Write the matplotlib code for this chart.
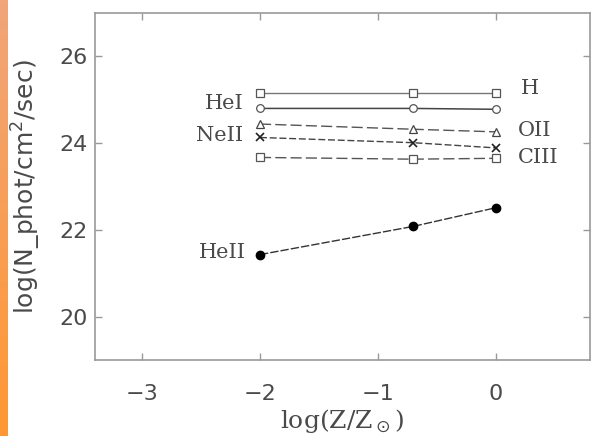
import numpy as np
import matplotlib
matplotlib.use("Agg")
import matplotlib.pyplot as plt

# Data
log_z = [-2.0, -0.7, 0.0]
H = [25.15, 25.15, 25.15]
HeI = [24.80, 24.80, 24.78]
OII = [24.44, 24.32, 24.26]
NeII = [24.13, 24.01, 23.89]
CIII = [23.67, 23.63, 23.65]
HeII = [21.43, 22.08, 22.51]

xticks = [-3, -2, -1, 0]
yticks = [20, 22, 24, 26]

fig = plt.figure(figsize=(5.91, 4.36), dpi=100)

# orange strip on the left
sax = fig.add_axes([0, 0, 8 / 591, 1])
top = np.array([240, 165, 122]) / 255
bot = np.array([255, 152, 50]) / 255
t = np.linspace(0, 1, 100)[:, None]
grad = (top[None, :] * (1 - t) + bot[None, :] * t)[:, None, :]
sax.imshow(grad, aspect="auto", extent=[0, 1, 0, 1])
sax.set_axis_off()

ax = fig.add_axes([95 / 591, 1 - 360 / 436, 495 / 591, 347 / 436])
ax.set_xlim(-3.4, 0.8)
ax.set_ylim(19, 27)

tc = "#4a4a4a"
ms = 5.5
ax.plot(log_z, H, color="#777777", lw=1.0, marker="s", ms=ms, mfc="white", mec="#555555", mew=0.9)
ax.plot(log_z, HeI, color="#444444", lw=1.1, marker="o", ms=ms, mfc="white", mec="#555555", mew=0.9)
ax.plot(log_z, OII, color="#555555", lw=1.0, ls=(0, (8, 3)), marker="^", ms=ms, mfc="white", mec="#444444", mew=0.9)
ax.plot(log_z, NeII, color="#444444", lw=1.0, ls=(0, (5, 2)), marker="x", ms=ms, mec="#222222", mew=1.2)
ax.plot(log_z, CIII, color="#555555", lw=1.0, ls=(0, (8, 3)), marker="s", ms=ms, mfc="white", mec="#555555", mew=0.9)
ax.plot(log_z, HeII, color="#333333", lw=1.0, ls=(0, (6, 1.5)), marker="o", ms=6, mfc="black", mec="black")

lab_kw = dict(family="DejaVu Serif", fontsize=15, color=tc, va="center")
ax.text(0.21, 25.26, "H", ha="left", **lab_kw)
ax.text(-2.14, 24.92, "HeI", ha="right", **lab_kw)
ax.text(-2.14, 24.17, "NeII", ha="right", **lab_kw)
ax.text(0.19, 24.28, "OII", ha="left", **lab_kw)
ax.text(0.19, 23.68, "CIII", ha="left", **lab_kw)
ax.text(-2.12, 21.48, "HeII", ha="right", **lab_kw)

ax.set_xticks(xticks)
ax.set_yticks(yticks)
ax.set_xticklabels(["\u2212" + str(abs(v)) if v < 0 else str(v) for v in xticks])
ax.set_yticklabels([str(v) for v in yticks])
ax.tick_params(direction="in", top=True, right=True, length=5, width=1, color="#999999",
               labelsize=16, labelcolor=tc)
ax.tick_params(axis="x", pad=17)
ax.tick_params(axis="y", pad=5)

for s in ax.spines.values():
    s.set_color("#999999")
    s.set_linewidth(1.2)

ax.set_xlabel(r"log(Z/Z$_\odot$)", family="DejaVu Serif", fontsize=18, color=tc)
ax.set_ylabel(r"log(N_phot/cm$^2$/sec)", family="DejaVu Sans", fontsize=18, color=tc)
ax.xaxis.set_label_coords(0.5, -0.135)
ax.yaxis.set_label_coords(-0.105, 0.5)

fig.savefig("out.png", dpi=100)
